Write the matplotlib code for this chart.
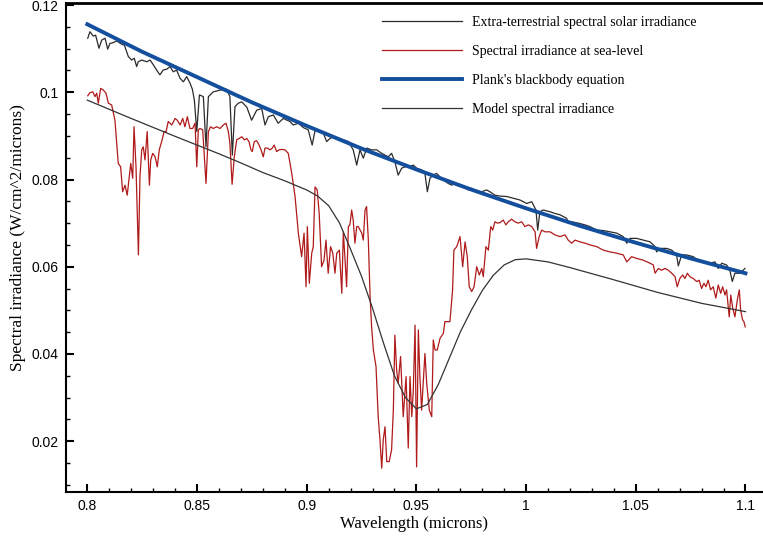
import matplotlib
matplotlib.use("Agg")
import matplotlib.pyplot as plt
from matplotlib.ticker import MultipleLocator, FuncFormatter

# ---------------- data ----------------
# Extra-terrestrial spectral solar irradiance: (wavelength, W/cm^2/micron)
et_points = [
    (0.8002, 0.1124), (0.8012, 0.1139), (0.8027, 0.1129), (0.8038, 0.1131), (0.8053, 0.1101),
    (0.8066, 0.1120), (0.8081, 0.1124), (0.8093, 0.1099), (0.8103, 0.1112), (0.8119, 0.1114),
    (0.8134, 0.1118), (0.8154, 0.1111), (0.8169, 0.1108), (0.8187, 0.1082), (0.8202, 0.1074),
    (0.8214, 0.1078), (0.8225, 0.1059), (0.8232, 0.1070), (0.8248, 0.1074), (0.8271, 0.1070),
    (0.8286, 0.1074), (0.8301, 0.1063), (0.8316, 0.1051), (0.8331, 0.1040), (0.8346, 0.1051),
    (0.8362, 0.1053), (0.8377, 0.1059), (0.8392, 0.1047), (0.8407, 0.1051), (0.8423, 0.1032),
    (0.8438, 0.1024), (0.8453, 0.1036), (0.8468, 0.1021), (0.8479, 0.1007), (0.8488, 0.0982),
    (0.8499, 0.0910), (0.8511, 0.0994), (0.8529, 0.0990), (0.8541, 0.0875), (0.8552, 0.0990),
    (0.8574, 0.1001), (0.8605, 0.1005), (0.8635, 0.1007), (0.8650, 0.0990), (0.8661, 0.0856),
    (0.8673, 0.0967), (0.8688, 0.0975), (0.8704, 0.0978), (0.8727, 0.0966), (0.8749, 0.0936),
    (0.8772, 0.0959), (0.8795, 0.0963), (0.8810, 0.0925), (0.8825, 0.0944), (0.8848, 0.0948),
    (0.8870, 0.0929), (0.8893, 0.0940), (0.8924, 0.0933), (0.8939, 0.0925), (0.8962, 0.0929),
    (0.8985, 0.0919), (0.9007, 0.0914), (0.9025, 0.0879), (0.9038, 0.0912), (0.9061, 0.0912),
    (0.9076, 0.0906), (0.9091, 0.0887), (0.9106, 0.0894), (0.9122, 0.0898), (0.9144, 0.0894),
    (0.9167, 0.0891), (0.9190, 0.0887), (0.9212, 0.0868), (0.9228, 0.0833), (0.9243, 0.0868),
    (0.9258, 0.0849), (0.9274, 0.0872), (0.9296, 0.0868), (0.9319, 0.0868), (0.9342, 0.0860),
    (0.9357, 0.0856), (0.9372, 0.0852), (0.9387, 0.0860), (0.9402, 0.0841), (0.9417, 0.0810),
    (0.9433, 0.0826), (0.9448, 0.0829), (0.9471, 0.0830), (0.9486, 0.0833), (0.9501, 0.0826),
    (0.9524, 0.0822), (0.9539, 0.0814), (0.9550, 0.0772), (0.9562, 0.0803), (0.9577, 0.0810),
    (0.9592, 0.0814), (0.9608, 0.0806), (0.9623, 0.0799), (0.9645, 0.0791), (0.9661, 0.0787),
    (0.9676, 0.0791), (0.9699, 0.0787), (0.9722, 0.0783), (0.9737, 0.0776), (0.9752, 0.0780),
    (0.9775, 0.0772), (0.9798, 0.0772), (0.9820, 0.0776), (0.9835, 0.0772), (0.9858, 0.0764),
    (0.9881, 0.0762), (0.9912, 0.0761), (0.9942, 0.0757), (0.9972, 0.0753), (1.0003, 0.0745),
    (1.0026, 0.0749), (1.0045, 0.0730), (1.0053, 0.0684), (1.0063, 0.0726), (1.0078, 0.0730),
    (1.0109, 0.0726), (1.0132, 0.0722), (1.0155, 0.0719), (1.0185, 0.0711), (1.0192, 0.0700),
    (1.0208, 0.0703), (1.0238, 0.0700), (1.0268, 0.0696), (1.0291, 0.0692), (1.0322, 0.0684),
    (1.0352, 0.0683), (1.0382, 0.0680), (1.0413, 0.0677), (1.0443, 0.0669), (1.0459, 0.0654),
    (1.0474, 0.0665), (1.0504, 0.0665), (1.0534, 0.0661), (1.0565, 0.0657), (1.0588, 0.0646),
    (1.0595, 0.0634), (1.0610, 0.0642), (1.0641, 0.0642), (1.0664, 0.0638), (1.0686, 0.0627),
    (1.0694, 0.0602), (1.0709, 0.0627), (1.0732, 0.0627), (1.0762, 0.0623), (1.0793, 0.0611),
    (1.0815, 0.0611), (1.0838, 0.0608), (1.0861, 0.0611), (1.0876, 0.0596), (1.0892, 0.0608),
    (1.0914, 0.0604), (1.0929, 0.0592), (1.0940, 0.0566), (1.0952, 0.0585), (1.0975, 0.0585),
    (1.0998, 0.0596),
]

# Spectral irradiance at sea-level: (wavelength, W/cm^2/micron)
sea_points = [
    (0.8002, 0.0992), (0.8012, 0.0999), (0.8025, 0.1001), (0.8035, 0.0990), (0.8043, 0.0998),
    (0.8050, 0.0975), (0.8061, 0.1009), (0.8073, 0.1005), (0.8085, 0.0998), (0.8096, 0.0975),
    (0.8111, 0.0971), (0.8126, 0.0936), (0.8141, 0.0837), (0.8152, 0.0829), (0.8161, 0.0772),
    (0.8172, 0.0787), (0.8182, 0.0764), (0.8198, 0.0837), (0.8207, 0.0803), (0.8213, 0.0921),
    (0.8222, 0.0829), (0.8233, 0.0627), (0.8240, 0.0806), (0.8248, 0.0868), (0.8255, 0.0875),
    (0.8263, 0.0845), (0.8273, 0.0910), (0.8283, 0.0787), (0.8289, 0.0845), (0.8298, 0.0860),
    (0.8309, 0.0852), (0.8319, 0.0829), (0.8328, 0.0868), (0.8339, 0.0887), (0.8350, 0.0910),
    (0.8359, 0.0910), (0.8369, 0.0933), (0.8385, 0.0925), (0.8400, 0.0940), (0.8410, 0.0936),
    (0.8423, 0.0925), (0.8435, 0.0940), (0.8445, 0.0921), (0.8456, 0.0944), (0.8468, 0.0917),
    (0.8480, 0.0917), (0.8491, 0.0929), (0.8499, 0.0829), (0.8506, 0.0914), (0.8514, 0.0917),
    (0.8526, 0.0914), (0.8541, 0.0791), (0.8552, 0.0910), (0.8562, 0.0921), (0.8574, 0.0917),
    (0.8590, 0.0921), (0.8605, 0.0917), (0.8620, 0.0925), (0.8632, 0.0929), (0.8643, 0.0910),
    (0.8650, 0.0883), (0.8660, 0.0789), (0.8670, 0.0852), (0.8681, 0.0891), (0.8691, 0.0894),
    (0.8704, 0.0898), (0.8716, 0.0891), (0.8727, 0.0894), (0.8737, 0.0887), (0.8746, 0.0868),
    (0.8752, 0.0864), (0.8761, 0.0887), (0.8772, 0.0889), (0.8783, 0.0879), (0.8792, 0.0868),
    (0.8802, 0.0852), (0.8810, 0.0872), (0.8822, 0.0872), (0.8833, 0.0868), (0.8843, 0.0872),
    (0.8852, 0.0879), (0.8863, 0.0864), (0.8874, 0.0868), (0.8886, 0.0869), (0.8901, 0.0868),
    (0.8916, 0.0860), (0.8932, 0.0814), (0.8947, 0.0761), (0.8962, 0.0677), (0.8977, 0.0623),
    (0.8988, 0.0677), (0.8997, 0.0554), (0.9003, 0.0692), (0.9012, 0.0562), (0.9023, 0.0631),
    (0.9030, 0.0646), (0.9038, 0.0783), (0.9048, 0.0776), (0.9057, 0.0722), (0.9068, 0.0600),
    (0.9079, 0.0615), (0.9088, 0.0661), (0.9098, 0.0585), (0.9109, 0.0646), (0.9119, 0.0631),
    (0.9129, 0.0585), (0.9137, 0.0631), (0.9149, 0.0638), (0.9160, 0.0539), (0.9167, 0.0680),
    (0.9175, 0.0615), (0.9182, 0.0554), (0.9190, 0.0692), (0.9197, 0.0696), (0.9205, 0.0730),
    (0.9212, 0.0707), (0.9220, 0.0654), (0.9228, 0.0692), (0.9235, 0.0692), (0.9251, 0.0677),
    (0.9258, 0.0661), (0.9266, 0.0730), (0.9273, 0.0738), (0.9281, 0.0661), (0.9289, 0.0531),
    (0.9296, 0.0462), (0.9304, 0.0409), (0.9316, 0.0371), (0.9326, 0.0256), (0.9334, 0.0203),
    (0.9342, 0.0138), (0.9349, 0.0203), (0.9357, 0.0233), (0.9365, 0.0153), (0.9376, 0.0153),
    (0.9387, 0.0180), (0.9395, 0.0271), (0.9402, 0.0443), (0.9410, 0.0363), (0.9417, 0.0333),
    (0.9428, 0.0394), (0.9440, 0.0256), (0.9453, 0.0348), (0.9463, 0.0184), (0.9471, 0.0348),
    (0.9479, 0.0256), (0.9486, 0.0317), (0.9494, 0.0466), (0.9501, 0.0141), (0.9509, 0.0455),
    (0.9516, 0.0348), (0.9524, 0.0271), (0.9531, 0.0333), (0.9539, 0.0401), (0.9547, 0.0333),
    (0.9559, 0.0271), (0.9570, 0.0256), (0.9577, 0.0432), (0.9585, 0.0409), (0.9595, 0.0409),
    (0.9608, 0.0436), (0.9623, 0.0447), (0.9630, 0.0474), (0.9653, 0.0474), (0.9665, 0.0547),
    (0.9671, 0.0638), (0.9684, 0.0646), (0.9699, 0.0669), (0.9711, 0.0600), (0.9722, 0.0657),
    (0.9732, 0.0623), (0.9741, 0.0554), (0.9752, 0.0543), (0.9763, 0.0554), (0.9775, 0.0600),
    (0.9787, 0.0581), (0.9798, 0.0596), (0.9805, 0.0577), (0.9817, 0.0646), (0.9828, 0.0638),
    (0.9839, 0.0692), (0.9848, 0.0684), (0.9858, 0.0703), (0.9869, 0.0700), (0.9881, 0.0701),
    (0.9896, 0.0707), (0.9908, 0.0696), (0.9919, 0.0703), (0.9934, 0.0709), (0.9949, 0.0703),
    (0.9964, 0.0700), (0.9980, 0.0703), (0.9995, 0.0692), (1.0010, 0.0696), (1.0026, 0.0692),
    (1.0041, 0.0680), (1.0048, 0.0642), (1.0060, 0.0669), (1.0071, 0.0684), (1.0086, 0.0680),
    (1.0109, 0.0680), (1.0132, 0.0673), (1.0155, 0.0669), (1.0177, 0.0673), (1.0192, 0.0661),
    (1.0208, 0.0654), (1.0223, 0.0661), (1.0246, 0.0657), (1.0268, 0.0654), (1.0291, 0.0650),
    (1.0322, 0.0646), (1.0352, 0.0638), (1.0382, 0.0634), (1.0413, 0.0631), (1.0443, 0.0627),
    (1.0459, 0.0611), (1.0481, 0.0623), (1.0504, 0.0619), (1.0534, 0.0615), (1.0565, 0.0608),
    (1.0580, 0.0604), (1.0588, 0.0585), (1.0603, 0.0596), (1.0618, 0.0592), (1.0633, 0.0596),
    (1.0648, 0.0592), (1.0664, 0.0585), (1.0679, 0.0577), (1.0689, 0.0554), (1.0701, 0.0573),
    (1.0714, 0.0581), (1.0724, 0.0573), (1.0735, 0.0585), (1.0747, 0.0577), (1.0762, 0.0573),
    (1.0778, 0.0566), (1.0789, 0.0569), (1.0800, 0.0550), (1.0811, 0.0562), (1.0820, 0.0554),
    (1.0830, 0.0569), (1.0841, 0.0547), (1.0853, 0.0554), (1.0865, 0.0528), (1.0876, 0.0558),
    (1.0887, 0.0539), (1.0896, 0.0554), (1.0907, 0.0535), (1.0914, 0.0547), (1.0926, 0.0485),
    (1.0933, 0.0535), (1.0942, 0.0505), (1.0952, 0.0485), (1.0963, 0.0524), (1.0972, 0.0547),
    (1.0978, 0.0501), (1.0987, 0.0478), (1.0993, 0.0474), (1.0999, 0.0462),
]

# Plank's blackbody equation (read-off values)
planck_wl = [0.800, 0.825, 0.850, 0.875, 0.900, 0.925, 0.950, 0.975, 1.000, 1.025, 1.050, 1.075, 1.100]
planck_irr = [0.1156, 0.1093, 0.1035, 0.0977, 0.0923, 0.0871, 0.0823, 0.0777, 0.0734, 0.0693, 0.0655, 0.0619, 0.0585]

# Model spectral irradiance (read-off values)
model_wl = [0.800, 0.820, 0.840, 0.860, 0.870, 0.880, 0.890, 0.900, 0.905, 0.910, 0.915, 0.920,
            0.925, 0.930, 0.935, 0.940, 0.945, 0.950, 0.955, 0.960, 0.965, 0.970, 0.975, 0.980,
            0.985, 0.990, 0.995, 1.000, 1.010, 1.020, 1.040, 1.060, 1.080, 1.100]
model_irr = [0.0982, 0.0940, 0.0899, 0.0859, 0.0838, 0.0816, 0.0797, 0.0776, 0.0762, 0.0740, 0.0700, 0.0640,
             0.0578, 0.0505, 0.0425, 0.0350, 0.0300, 0.0274, 0.0284, 0.0330, 0.0390, 0.0450, 0.0500, 0.0545,
             0.0580, 0.0604, 0.0616, 0.0618, 0.0611, 0.0598, 0.0570, 0.0541, 0.0516, 0.0497]

labels = ["Extra-terrestrial spectral solar irradiance",
          "Spectral irradiance at sea-level",
          "Plank's blackbody equation",
          "Model spectral irradiance"]
x_ticks_major = 0.05
y_ticks_major = 0.02

et_wl = [p[0] for p in et_points]
et_irr = [p[1] for p in et_points]
sea_wl = [p[0] for p in sea_points]
sea_irr = [p[1] for p in sea_points]

# ---------------- figure ----------------
W, H = 763, 537
fig = plt.figure(figsize=(W / 100, H / 100), dpi=100)
left_px, right_px, top_px, bottom_px = 65.5, 763, 3, 492
ax = fig.add_axes([left_px / W, (H - bottom_px) / H, (right_px - left_px) / W, (bottom_px - top_px) / H])

serif = "Liberation Serif"
sans = "Liberation Sans"

ax.plot(et_wl, et_irr, color="#2b2b2b", lw=0.9, label=labels[0])
ax.plot(sea_wl, sea_irr, color="#b01a1a", lw=0.9, label=labels[1])
ax.plot(planck_wl, planck_irr, color="#134f9c", lw=2.8, label=labels[2])
ax.plot(model_wl, model_irr, color="#333333", lw=0.9, label=labels[3])

ax.set_xlim(0.79006, 1.1080)
ax.set_ylim(0.00833, 0.12048)

ax.xaxis.set_major_locator(MultipleLocator(x_ticks_major))
ax.xaxis.set_minor_locator(MultipleLocator(0.01))
ax.yaxis.set_major_locator(MultipleLocator(y_ticks_major))
ax.yaxis.set_minor_locator(MultipleLocator(0.005))
fmt = FuncFormatter(lambda v, p: "%g" % round(v, 4))
ax.xaxis.set_major_formatter(fmt)
ax.yaxis.set_major_formatter(fmt)

ax.tick_params(which="major", direction="in", length=6, width=1.5, labelsize=10,
               top=False, right=False, colors="black")
ax.tick_params(axis="x", which="major", pad=5)
ax.tick_params(axis="y", which="major", pad=5)
ax.tick_params(which="minor", direction="in", length=3, width=1.0, top=False, right=False)
for lab in ax.get_xticklabels() + ax.get_yticklabels():
    lab.set_fontfamily(sans)

for s in ["left", "bottom"]:
    ax.spines[s].set_linewidth(1.5)
ax.spines["top"].set_linewidth(2.0)
ax.spines["right"].set_visible(False)

ax.set_xlabel("Wavelength (microns)", fontfamily=serif, fontsize=12)
ax.xaxis.set_label_coords(0.5, -(524 - bottom_px) / (bottom_px - top_px))
ax.xaxis.label.set_va("center")
ax.set_ylabel("Spectral irradiance (W/cm^2/microns)", fontfamily=serif, fontsize=12.5)
ax.yaxis.set_label_coords(-(left_px - 18) / (right_px - left_px), (bottom_px - 238) / (bottom_px - top_px))
ax.yaxis.label.set_va("center")

fs = 10
fs_px = fs * 100 / 72
leg = ax.legend(loc="upper left", bbox_to_anchor=(381.7 / W, 1 - 16 / H), bbox_transform=fig.transFigure,
                frameon=False, borderpad=0, borderaxespad=0,
                handlelength=80 / fs_px, handletextpad=10 / fs_px, labelspacing=1.15,
                prop={"family": serif, "size": fs})

fig.savefig("out.png", dpi=100)
